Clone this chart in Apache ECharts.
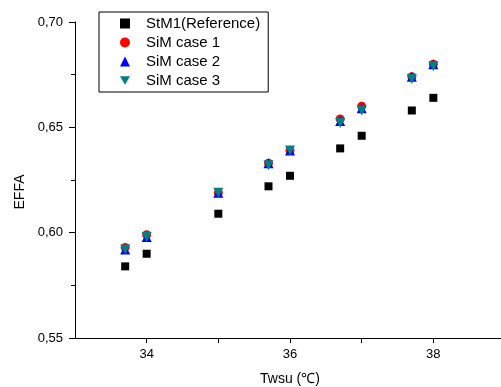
<!DOCTYPE html>
<html>
<head>
<meta charset="utf-8">
<script src="https://cdn.jsdelivr.net/npm/echarts@6/dist/echarts.min.js"></script>
<style>
  html, body { margin: 0; padding: 0; background: #fff; }
  #chart { width: 501px; height: 387px; }
</style>
</head>
<body>
<div id="chart"></div>
<script>
const twsu = [33.7, 34, 35, 35.7, 36, 36.7, 37, 37.7, 38]
const stm1 = [0.584, 0.590, 0.609, 0.622, 0.627, 0.640, 0.646, 0.658, 0.664]
const simCase1 = [0.593, 0.599, 0.619, 0.633, 0.639, 0.654, 0.660, 0.674, 0.680]
const simCase2 = [0.592, 0.598, 0.619, 0.633, 0.639, 0.653, 0.659, 0.674, 0.680]
const simCase3 = [0.592, 0.598, 0.619, 0.632, 0.639, 0.652, 0.658, 0.673, 0.679]
const xTicks = [34, 35, 36, 37, 38]
const xLabels = [34, 36, 38]

const FONT = "Liberation Sans, Arial, sans-serif"
const pairs = (ys) => twsu.map((x, i) => [x, ys[i]])

const chart = echarts.init(document.getElementById("chart"), null, { renderer: "canvas" })

const axisLine = { show: true, lineStyle: { color: "#000", width: 1 } }

chart.setOption({
  animation: false,
  backgroundColor: "#fff",
  grid: { left: 75, top: 22, right: -4, bottom: 49, outerBoundsMode: "none" },
  legend: {
    orient: "vertical",
    left: 99,
    top: 12,
    borderColor: "#000",
    borderWidth: 1,
    padding: [4, 8, 4, 21],
    itemWidth: 10,
    itemHeight: 10,
    itemGap: 4,
    textStyle: { fontFamily: FONT, fontSize: 15, color: "#000", lineHeight: 15, padding: [0, 0, 0, 11] },
    data: ["StM1(Reference)", "SiM case 1", "SiM case 2", "SiM case 3"],
  },
  xAxis: {
    type: "value",
    min: 33,
    max: 39,
    name: "Twsu (℃)",
    nameLocation: "middle",
    nameGap: 34,
    nameTextStyle: { fontFamily: FONT, fontSize: 14, color: "#000" },
    axisLine,
    axisTick: { customValues: xTicks, length: 5, lineStyle: { color: "#000" } },
    axisLabel: { customValues: xLabels, margin: 10, fontFamily: FONT, fontSize: 13, color: "#000" },
    splitLine: { show: false },
  },
  yAxis: {
    type: "value",
    min: 0.55,
    max: 0.70,
    interval: 0.05,
    name: "EFFA",
    nameLocation: "middle",
    nameGap: 43,
    nameTextStyle: { fontFamily: FONT, fontSize: 14, color: "#000", padding: [0, 24, 0, 0] },
    axisLine,
    axisTick: { length: 6, lineStyle: { color: "#000" } },
    minorTick: { show: true, splitNumber: 2, length: 4, lineStyle: { color: "#000" } },
    axisLabel: {
      margin: 12,
      fontFamily: FONT,
      fontSize: 13,
      color: "#000",
      formatter: (v) => v.toFixed(2).replace(".", ","),
    },
    splitLine: { show: false },
  },
  series: [
    {
      name: "StM1(Reference)",
      type: "scatter",
      symbol: "rect",
      symbolSize: 8,
      itemStyle: { color: "#000", opacity: 1 },
      data: pairs(stm1),
    },
    {
      name: "SiM case 1",
      type: "scatter",
      symbol: "circle",
      symbolSize: 9,
      itemStyle: { color: "#ff0000", opacity: 1 },
      data: pairs(simCase1),
    },
    {
      name: "SiM case 2",
      type: "scatter",
      symbol: "triangle",
      symbolSize: 10,
      itemStyle: { color: "#0000ff", opacity: 1 },
      data: pairs(simCase2),
    },
    {
      name: "SiM case 3",
      type: "scatter",
      symbol: "path://M0,0L2,0L1,1.732Z",
      symbolSize: 10,
      itemStyle: { color: "#008080", opacity: 1 },
      data: pairs(simCase3),
    },
  ],
})
</script>
</body>
</html>
